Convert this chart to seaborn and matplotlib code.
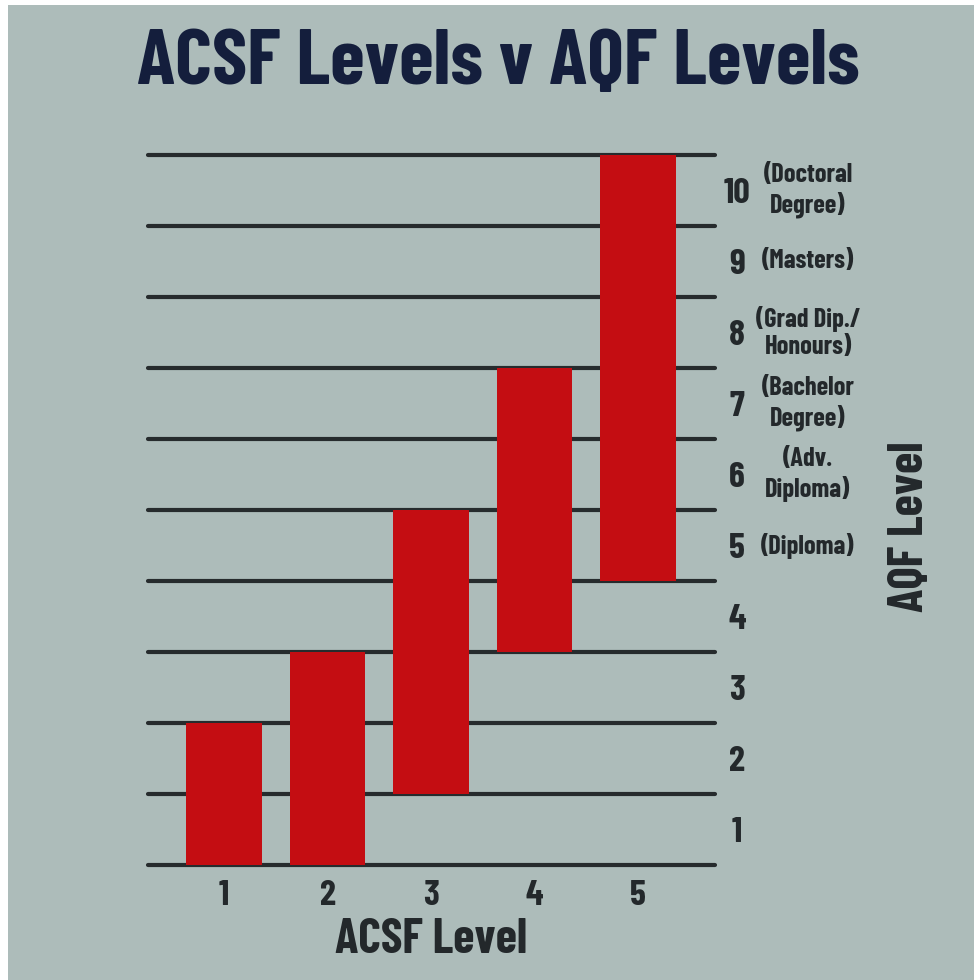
import matplotlib
matplotlib.use("Agg")
import matplotlib.pyplot as plt
import seaborn as sns
import pandas as pd
from matplotlib.patches import Rectangle

# ACSF level -> range of AQF levels it spans
acsf_levels = ["1", "2", "3", "4", "5"]
aqf_low = [0, 0, 1, 3, 4]
aqf_high = [2, 3, 5, 7, 10]

aqf_numbers = ["1", "2", "3", "4", "5", "6", "7", "8", "9", "10"]
aqf_names = ["", "", "", "", "(Diploma)", "(Adv.\nDiploma)", "(Bachelor\nDegree)",
             "(Grad Dip./\nHonours)", "(Masters)", "(Doctoral\nDegree)"]

BG = "#adbcba"
RED = "#c40d12"
LINE = "#262b2d"
TEXT = "#23282b"
NAVY = "#141e3c"

sns.set_theme(style="white")
plt.rcParams["font.family"] = ["Barlow Condensed", "DejaVu Sans"]

W, H = 974, 980
fig = plt.figure(figsize=(W / 100, H / 100), dpi=100, facecolor="white")
fig.patches.append(Rectangle((8 / W, 0), 1 - 8 / W, 1 - 5 / H, transform=fig.transFigure,
                             facecolor=BG, edgecolor="none", zorder=-10))

ax = fig.add_axes([148 / W, 1 - 865 / H, (715 - 148) / W, (865 - 155) / H])
ax.set_facecolor("none")

df = pd.DataFrame({
    "acsf": acsf_levels,
    "low": aqf_low,
    "span": [h - l for h, l in zip(aqf_high, aqf_low)],
})

# Horizontal band lines at each AQF boundary
for yv in range(0, 11):
    ax.axhline(yv, color=LINE, lw=3.0, zorder=1, clip_on=False)

sns.barplot(data=df, x="acsf", y="span", bottom=df["low"], color=RED,
            saturation=1, width=0.73, ax=ax, zorder=3, linewidth=0)

ax.set_xlim(-0.735, 4.745)
ax.set_ylim(0, 10)
for s in ax.spines.values():
    s.set_visible(False)

ax.set_xlabel("ACSF Level", fontsize=35, color=TEXT, fontweight="bold")
ax.xaxis.label.set_va("center")
ax.xaxis.set_label_coords(0.5, -(940 - 865) / 710)
ax.set_ylabel("")
ax.tick_params(axis="x", length=0, pad=11, labelsize=26, labelcolor=TEXT)
for t in ax.get_xticklabels():
    t.set_fontweight("bold")

ax.yaxis.tick_right()
ax.set_yticks([i + 0.5 for i in range(10)])
ax.set_yticklabels(aqf_numbers, fontsize=26, color=TEXT, fontweight="bold", ha="center")
ax.tick_params(axis="y", length=0, pad=16)

for i, name in enumerate(aqf_names):
    if name:
        ax.annotate(name, xy=(1, i + 0.5), xycoords=("axes fraction", "data"),
                    xytext=(93, 0), textcoords="offset pixels",
                    ha="center", va="center", fontsize=19, color=TEXT,
                    fontweight="bold", linespacing=1.2)

fig.text(910 / W, 1 - 527 / H, "AQF Level", rotation=90, ha="center", va="center",
         fontsize=35, color=TEXT, fontweight="bold")

fig.text(498 / W, 1 - 64 / H, "ACSF Levels v AQF Levels", ha="center", va="center",
         fontsize=57, color=NAVY, fontweight="bold")

fig.savefig("out.png", dpi=100, facecolor="white")
